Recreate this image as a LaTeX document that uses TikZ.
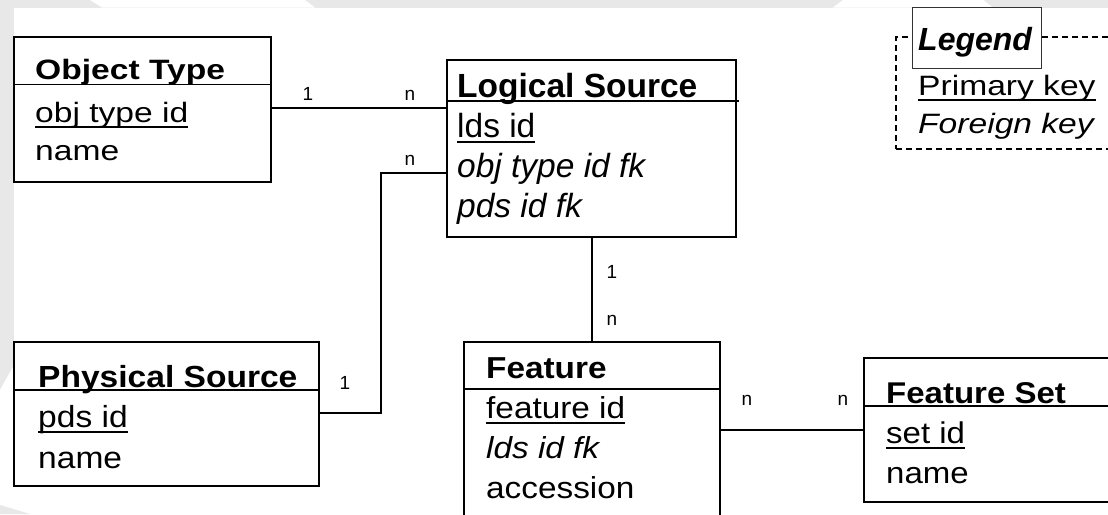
\documentclass[tikz,border=0pt]{standalone}
\usepackage{fontspec}
\usepackage{xcolor}
\setmainfont{Liberation Sans}
\newfontfamily\widesans{Liberation Sans}[FakeStretch=1.2]
\newfontfamily\midsans{Liberation Sans}[FakeStretch=1.1]
\definecolor{slidegray}{HTML}{E8E8E8}

\newcommand\pxsize[1]{\fontsize{#1}{#1}\selectfont}
\newsavebox\keybox
\newcommand\pkey[1]{\sbox\keybox{#1}\rlap{\rule[-5.5pt]{\wd\keybox}{2pt}}\usebox\keybox}

\tikzset{
	entity/.style={draw, line width=1.6pt, fill=white, anchor=north west, inner sep=0pt, outer sep=0pt},
	field/.style={anchor=base west, inner sep=0pt},
	card/.style={anchor=base, inner sep=0pt, font=\pxsize{19}},
	rel/.style={line width=1.5pt},
	legendbox/.style={draw, dash pattern=on 6pt off 4pt, line width=1.3pt, anchor=north west, inner sep=0pt, outer sep=0pt}
}

\begin{document}
\begin{tikzpicture}
	[x=1pt, y=-1pt]

	% slide background
	\clip (0,0) rectangle (1108,514);
	\fill[slidegray] (0,0) rectangle (1108,514);
	\fill[white] (14,7.5) rectangle (1108,514);
	\fill[white] (90,0) -- (305,0) -- (315,7.5) -- (102,7.5) -- cycle;
	\fill[white] (843,0) -- (983,0) -- (993,7.5) -- (833,7.5) -- cycle;
	\fill[white] (0,390) -- (14,365) -- (14,514) -- (0,514) -- cycle;
	\fill[slidegray] (0,505) -- (30,514) -- (0,514) -- cycle;

	% entities
	\node[entity, minimum width=257pt, minimum height=145pt] (objtype) at (14,37) {};
	\draw[line width=1.6pt] (objtype.west |- 0,84.5) -- (objtype.east |- 0,84.5);
	\node[field, font=\widesans\pxsize{28}] (objtypeT) at (35,79.5) {\textbf{Object Type}};
	\node[field, font=\widesans\pxsize{28}] (objtypeA) at (35,122.7) {\pkey{obj type id}};
	\node[field, font=\widesans\pxsize{28}] (objtypeB) at (35,160) {name};

	\node[entity, minimum width=289pt, minimum height=177pt] (logsrc) at (447,60) {};
	\draw[line width=1.6pt] (logsrc.west |- 0,101) -- ([xshift=3pt]logsrc.east |- 0,101);
	\node[field, font=\pxsize{33.5}] (logsrcT) at (457,97) {\textbf{Logical Source}};
	\node[field, font=\pxsize{33.5}] (logsrcA) at (457,137) {\pkey{lds id}};
	\node[field, font=\pxsize{33.5}] (logsrcB) at (457,177) {\textit{obj type id fk}};
	\node[field, font=\pxsize{33.5}] (logsrcC) at (457,217) {\textit{pds id fk}};

	\node[entity, minimum width=305pt, minimum height=144pt] (physsrc) at (14,342) {};
	\draw[line width=1.6pt] (physsrc.west |- 0,390) -- (physsrc.east |- 0,390);
	\node[field, font=\midsans\pxsize{30.5}] (physsrcT) at (38,387) {\textbf{Physical Source}};
	\node[field, font=\midsans\pxsize{30.5}] (physsrcA) at (38,427) {\pkey{pds id}};
	\node[field, font=\midsans\pxsize{30.5}] (physsrcB) at (38,468) {name};

	\node[entity, minimum width=256pt, minimum height=250pt] (feature) at (464,342) {};
	\draw[line width=1.6pt] (feature.west |- 0,389) -- (feature.east |- 0,389);
	\node[field, font=\midsans\pxsize{30.3}] (featureT) at (486,378) {\textbf{Feature}};
	\node[field, font=\midsans\pxsize{30.3}] (featureA) at (486,418) {\pkey{feature id}};
	\node[field, font=\midsans\pxsize{30.3}] (featureB) at (486,458) {\textit{lds id fk}};
	\node[field, font=\midsans\pxsize{30.3}] (featureC) at (486,498) {accession};

	\node[entity, minimum width=300pt, minimum height=144pt] (featset) at (864,358) {};
	\draw[line width=1.6pt] (featset.west |- 0,406) -- (featset.east |- 0,406);
	\node[field, font=\midsans\pxsize{30}] (featsetT) at (886,403) {\textbf{Feature Set}};
	\node[field, font=\midsans\pxsize{30}] (featsetA) at (886,443) {\pkey{set id}};
	\node[field, font=\midsans\pxsize{30}] (featsetB) at (886,483) {name};

	% relations
	\draw[rel] (objtype.east |- 0,108) -- (logsrc.west |- 0,108);
	\draw[rel] (physsrc.east |- 0,413) -- (381,413) -- (381,173) -- (logsrc.west |- 0,173);
	\draw[rel] (logsrc.south -| 592,0) -- (feature.north -| 592,0);
	\draw[rel] (feature.east |- 0,430) -- (featset.west |- 0,430);

	\node[card] (c1) at (308,100) {1};
	\node[card] (c2) at (410,100) {n};
	\node[card] (c3) at (410,165) {n};
	\node[card] (c4) at (345,389) {1};
	\node[card] (c5) at (612,278) {1};
	\node[card] (c6) at (612,325) {n};
	\node[card] (c7) at (747,405) {n};
	\node[card] (c8) at (843,405) {n};

	% legend
	\node[legendbox, minimum width=240pt, minimum height=112pt] (legend) at (896,37) {};
	\node[draw=black!80, line width=0.8pt, fill=white, anchor=north west, inner sep=0pt, minimum width=129pt, minimum height=61pt] (legtitle) at (912,7) {};
	\node[field, font=\pxsize{32}] (legtext) at (918,50) {\textbf{\textit{Legend}}};
	\node[field, font=\widesans\pxsize{28}] (legpk) at (918,95) {\pkey{Primary key}};
	\node[field, font=\widesans\pxsize{28}] (legfk) at (918,133) {\textit{Foreign key}};

\end{tikzpicture}
\end{document}
